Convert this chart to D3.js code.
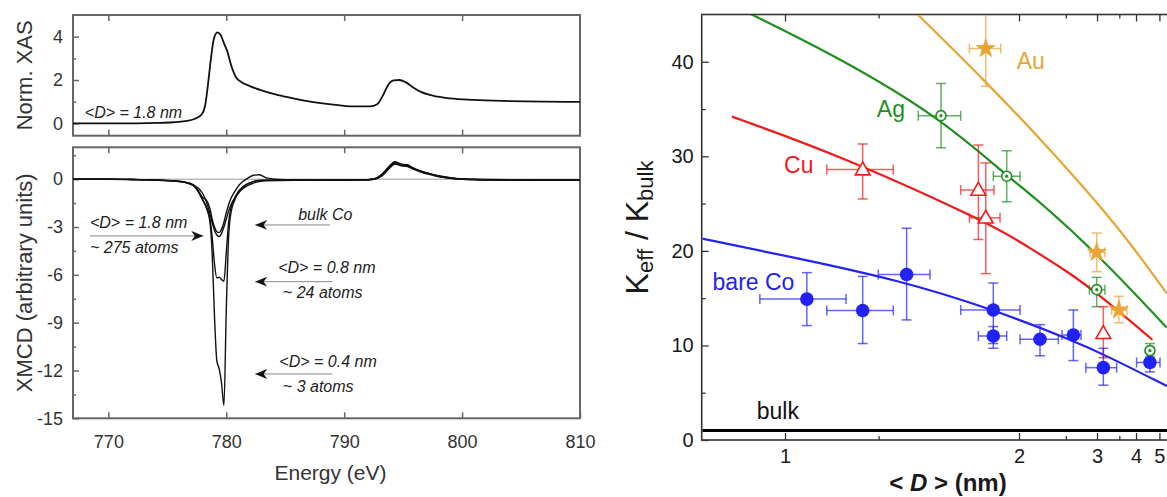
<!DOCTYPE html>
<html><head><meta charset="utf-8">
<script src="https://cdn.jsdelivr.net/npm/d3@7"></script>
<style>body{margin:0;background:#fff} svg{display:block}</style>
</head><body>
<svg id="c" width="1167" height="497"></svg>
<script>
// ---------- Left: XAS / XMCD spectra ----------
const xasEnergy = [767,772,774,775.5,776.5,777.3,777.9,778.2,778.45,778.7,778.95,779.25,779.5,779.8,780.1,780.4,780.8,781.3,782,783,784,785,786.5,788,789.5,791,792.2,792.8,793.3,793.7,794.2,794.7,795.2,795.8,796.5,797.5,799,801,804,807,810];
const xasValues = [0,0,0.02,0.05,0.1,0.2,0.4,0.8,1.8,3.0,3.9,4.2,4.1,3.7,3.3,2.7,2.15,1.9,1.72,1.52,1.36,1.23,1.06,0.93,0.84,0.78,0.78,0.88,1.3,1.75,1.98,2.0,1.9,1.68,1.45,1.28,1.15,1.08,1.03,1.0,0.99];

const xmcdEnergy = [767,770,772,774,775.5,776.5,777.2,777.6,778.0,778.3,778.6,778.8,779.0,779.2,779.4,779.6,779.8,780.0,780.2,780.4,780.7,781.0,781.4,781.8,782.3,782.8,783.4,784.5,786,788,790,791.5,792.5,793.2,793.8,794.3,794.8,795.3,795.8,796.5,797.5,798.5,799.5,801,804,807,810];
const xmcdBulk = [0,0,-0.02,-0.06,-0.12,-0.2,-0.35,-0.55,-0.9,-1.4,-2.1,-2.7,-3.2,-3.5,-3.6,-3.4,-3.0,-2.5,-2.0,-1.6,-1.2,-0.9,-0.6,-0.4,-0.25,-0.15,-0.1,-0.08,-0.07,-0.06,-0.05,-0.04,0.0,0.3,0.75,1.0,0.9,0.85,0.7,0.5,0.3,0.15,0.05,0.0,-0.03,-0.03,-0.03];
const xmcd18 = [0,0,-0.02,-0.05,-0.1,-0.18,-0.35,-0.7,-1.15,-1.3,-1.8,-2.5,-3.0,-3.3,-3.35,-3.15,-2.7,-2.1,-1.6,-1.2,-0.8,-0.45,-0.15,0.05,0.25,0.28,0.08,-0.02,-0.04,-0.05,-0.05,-0.04,0.0,0.25,0.7,1.05,0.85,0.92,0.72,0.5,0.28,0.12,0.03,-0.02,-0.05,-0.06,-0.06];
const xmcd08 = [0,0,-0.02,-0.05,-0.1,-0.2,-0.4,-0.75,-1.3,-1.7,-2.4,-3.6,-5.3,-6.2,-6.15,-6.3,-6.4,-4.6,-2.7,-1.8,-1.2,-0.8,-0.5,-0.3,-0.15,-0.08,-0.06,-0.06,-0.06,-0.06,-0.05,-0.04,0.0,0.2,0.65,0.95,0.85,0.8,0.65,0.45,0.25,0.1,0.02,-0.03,-0.06,-0.07,-0.07];
const xmcd04 = [0,0,-0.02,-0.05,-0.1,-0.2,-0.4,-0.75,-1.3,-1.8,-2.6,-4.6,-8.6,-11.4,-11.9,-12.8,-14.2,-8.2,-3.6,-2.1,-1.35,-0.85,-0.5,-0.3,-0.15,-0.08,-0.06,-0.06,-0.06,-0.06,-0.05,-0.04,0.02,0.3,0.8,1.1,0.95,0.9,0.7,0.5,0.28,0.12,0.03,-0.02,-0.05,-0.06,-0.06];

const energyTicks = [770,780,790,800,810];
const xasTicks = [0,2,4];
const xasMinor = [1,3];
const xmcdTicks = [0,-3,-6,-9,-12,-15];
const xmcdMinor = [1.5,-1.5,-4.5,-7.5,-10.5,-13.5];

// annotations: [text, energy, value]
const xasNote = ["<D> = 1.8 nm", 768.0, 0.25];
const xmcdNotes = [
  ["<D> = 1.8 nm", 768.44, -3.06], ["~ 275 atoms", 768.44, -4.63],
  ["bulk Co", 786.1, -2.56],
  ["<D> = 0.8 nm", 784.4, -5.89], ["~ 24 atoms", 784.8, -7.45],
  ["<D> = 0.4 nm", 784.5, -11.76], ["~ 3 atoms", 784.8, -13.33]
];
// arrows: [tailE, tipE, value]
const xmcdArrows = [[768.44, 778.05, -3.56],[788.8, 782.45, -2.87],[789.0, 782.45, -6.43],[789.0, 782.45, -12.22]];

// ---------- Right: anisotropy vs size ----------
const sizeTicks = [1,2,3,4,5];
const sizeMinor = [1.25,2.5,3.5];
const kTicks = [0,10,20,30,40];
const kMinor = [5,15,25,35];
const bulkLevel = 1;

// [D, K, Dlo, Dhi, Klo, Khi]
const coPoints = [[1.049,14.9,0.949,1.150,12.1,17.7],[1.199,13.7,1.098,1.301,10.2,17.3],[1.351,17.5,1.249,1.449,12.7,22.4],[1.802,13.75,1.601,2.009,10.2,16.6],[1.802,11.0,1.704,1.900,9.7,12.0],[2.197,10.65,2.009,2.404,8.9,12.2],[2.605,11.1,2.45,2.72,8.4,13.75],[3.127,7.65,2.80,3.433,5.8,9.7],[4.54,8.2,4.02,5.03,7.2,9.2]];
const cuPoints = [[1.199,28.6,1.098,1.301,25.5,31.3],[1.704,26.45,1.601,1.807,21.2,31.2],[1.751,23.5,1.65,1.85,17.6,29.3],[3.127,11.3,3.127,3.127,8.7,14.1]];
const agPoints = [[1.5,34.3,1.398,1.601,30.9,37.7],[1.90,27.9,1.802,2.009,25.2,30.6],[2.994,15.9,2.86,3.16,14.1,17.2],[4.54,9.45,4.4,4.7,8.8,10.2]];
const auPoints = [[1.751,41.4,1.650,1.855,37.4,45.6],[2.994,19.85,2.87,3.16,17.8,21.9],[3.49,13.75,3.31,3.71,12.4,15.2]];

const coFit = [[0.849,21.3],[1.0,19.5],[1.326,16.9],[1.802,13.8],[2.604,10.5],[3.2,8.9],[5.44,5.7]];
const cuFit = [[0.898,34.2],[1.133,30.1],[1.80,22.75],[2.068,20.5],[2.51,17.9],[3.06,15.3],[4.65,10.6]];
const agFit = [[0.93,45.1],[1.133,40.4],[1.495,34.1],[1.90,27.95],[2.197,25.2],[3.06,19.4],[5.42,11.9]];
const auFit = [[1.392,45.1],[1.757,37.8],[2.197,31.9],[2.994,25.2],[3.91,20.4],[5.42,15.5]];

// [text, D, K, color]
const seriesLabels = [["Au",1.98,39.2,"#e8a535"],["Ag",1.244,34.2,"#1f8f1f"],["Cu",0.998,28.25,"#f01c1c"],["bare Co",0.866,15.9,"#2222f5"],["bulk",0.943,2.2,"#111"]];

const FONT = "'Liberation Sans', Arial, Helvetica, sans-serif";
const svg = d3.select("#c");
svg.append("rect").attr("width",1167).attr("height",497).attr("fill","#fff");

svg.append("defs").append("marker").attr("id","ah").attr("viewBox","0 0 12 10")
  .attr("refX",12).attr("refY",5).attr("markerWidth",12).attr("markerHeight",10)
  .attr("markerUnits","userSpaceOnUse").attr("orient","auto")
  .append("path").attr("d","M0,0 L12,5 L0,10 L3.5,5 Z").attr("fill","#111");

// ===== LEFT =====
const xE = d3.scaleLinear().domain([767,810]).range([73,580]);
const yXas = d3.scaleLinear().domain([-0.57,5]).range([135.7,15]);
const yMcd = d3.scaleLinear().domain([-15,2]).range([418.3,147.3]);
const LC = "#666", TC = "#333";
const plain = d => String(d);

function styleAxis(g, fs){
  g.select(".domain").remove();
  g.selectAll(".tick line").attr("stroke",LC).attr("stroke-width",1.5);
  g.selectAll("text").attr("font-family",FONT).attr("font-size",fs).attr("fill",TC);
}

function leftPanel(y, yT, yMin, top){
  const g = svg.append("g");
  g.append("g").attr("transform",`translate(0,${y.range()[1]})`)
    .call(d3.axisTop(xE).tickValues([770,780,790,800]).tickSize(-6).tickFormat("")).call(a=>styleAxis(a,18));
  g.append("g").attr("transform",`translate(0,${y.range()[0]})`)
    .call(d3.axisBottom(xE).tickValues(top?[770,780,790,800]:energyTicks).tickSize(-6).tickPadding(17).tickFormat(top?"":plain))
    .call(a=>styleAxis(a,18));
  g.append("g").attr("transform",`translate(${xE.range()[0]},0)`)
    .call(d3.axisLeft(y).tickValues(yT).tickSize(-6).tickPadding(10).tickFormat(plain)).call(a=>styleAxis(a,18));
  g.append("g").attr("transform",`translate(${xE.range()[0]},0)`)
    .call(d3.axisLeft(y).tickValues(yMin).tickSize(-3).tickFormat("")).call(a=>styleAxis(a,18));
  g.append("rect").attr("x",xE.range()[0]).attr("y",y.range()[1])
    .attr("width",xE.range()[1]-xE.range()[0]).attr("height",y.range()[0]-y.range()[1])
    .attr("fill","none").attr("stroke",LC).attr("stroke-width",2);
  return g;
}

const gTop = leftPanel(yXas, xasTicks, xasMinor, true);
const lineXas = d3.line().x((d,i)=>xE(xasEnergy[i])).y(d=>yXas(d)).curve(d3.curveMonotoneX);
gTop.append("path").attr("d",lineXas(xasValues)).attr("fill","none").attr("stroke","#111").attr("stroke-width",1.8);
gTop.append("text").attr("x",xE(xasNote[1])).attr("y",yXas(xasNote[2])).text(xasNote[0])
  .attr("font-family",FONT).attr("font-style","italic").attr("font-size",16).attr("fill","#222");

const gBot = leftPanel(yMcd, xmcdTicks, xmcdMinor, false);
gBot.append("line").attr("x1",xE.range()[0]).attr("x2",xE.range()[1]).attr("y1",yMcd(0)).attr("y2",yMcd(0))
  .attr("stroke","#999").attr("stroke-width",1);
const lineMcd = d3.line().x((d,i)=>xE(xmcdEnergy[i])).y(d=>yMcd(d)).curve(d3.curveMonotoneX);
[xmcdBulk, xmcd18, xmcd08, xmcd04].forEach(s=>{
  gBot.append("path").attr("d",lineMcd(s)).attr("fill","none").attr("stroke","#111").attr("stroke-width",1.4);
});
xmcdNotes.forEach(n=>{
  gBot.append("text").attr("x",xE(n[1])).attr("y",yMcd(n[2])).text(n[0])
    .attr("font-family",FONT).attr("font-style","italic").attr("font-size",16).attr("fill","#222");
});
xmcdArrows.forEach(a=>{
  gBot.append("line").attr("x1",xE(a[0])).attr("x2",xE(a[1])).attr("y1",yMcd(a[2])).attr("y2",yMcd(a[2]))
    .attr("stroke","#888").attr("stroke-width",1).attr("marker-end","url(#ah)");
});
svg.append("text").attr("transform",`translate(32,${(yXas.range()[0]+yXas.range()[1])/2}) rotate(-90)`)
  .attr("text-anchor","middle").attr("font-family",FONT).attr("font-size",22).attr("fill",TC).text("Norm. XAS");
svg.append("text").attr("transform",`translate(32,${(yMcd.range()[0]+yMcd.range()[1])/2}) rotate(-90)`)
  .attr("text-anchor","middle").attr("font-family",FONT).attr("font-size",22).attr("fill",TC).text("XMCD (arbitrary units)");
svg.append("text").attr("x",(xE.range()[0]+xE.range()[1])/2+4).attr("y",480)
  .attr("text-anchor","middle").attr("font-family",FONT).attr("font-size",21).attr("fill",TC).text("Energy (eV)");

// ===== RIGHT =====
const xInv = d3.scaleLinear().domain([1.178,0.1774]).range([701.7,1170]); // linear in 1/D
const xR = d => xInv(1/d);
const yR = d3.scaleLinear().domain([0,45]).range([440,14.5]);
const RC = "#333";
function styleR(g, fs){
  g.select(".domain").remove();
  g.selectAll(".tick line").attr("stroke",RC).attr("stroke-width",1.3);
  g.selectAll("text").attr("font-family",FONT).attr("font-size",fs).attr("fill","#1a1a1a");
}
const gR = svg.append("g");
const inv = a => a.map(d=>1/d);
gR.append("g").attr("transform","translate(0,440)")
  .call(d3.axisBottom(xInv).tickValues(inv(sizeTicks)).tickSize(-7).tickPadding(9).tickFormat(d=>Math.round(1/d))).call(a=>styleR(a,20));
gR.append("g").attr("transform","translate(0,440)")
  .call(d3.axisBottom(xInv).tickValues(inv(sizeMinor)).tickSize(-4).tickFormat("")).call(a=>styleR(a,20));
gR.append("g").attr("transform","translate(0,14.5)")
  .call(d3.axisTop(xInv).tickValues(inv(sizeTicks)).tickSize(-7).tickFormat("")).call(a=>styleR(a,20));
gR.append("g").attr("transform","translate(0,14.5)")
  .call(d3.axisTop(xInv).tickValues(inv(sizeMinor)).tickSize(-4).tickFormat("")).call(a=>styleR(a,20));
gR.append("g").attr("transform","translate(701.7,0)")
  .call(d3.axisLeft(yR).tickValues(kTicks).tickSize(-7).tickPadding(8).tickFormat(plain)).call(a=>styleR(a,20));
gR.append("g").attr("transform","translate(701.7,0)")
  .call(d3.axisLeft(yR).tickValues(kMinor).tickSize(-4).tickFormat("")).call(a=>styleR(a,20));
gR.append("rect").attr("x",701.7).attr("y",14.5).attr("width",1170-701.7).attr("height",440-14.5)
  .attr("fill","none").attr("stroke",RC).attr("stroke-width",1.6);

svg.append("clipPath").attr("id","clipR").append("rect").attr("x",702.5).attr("y",15).attr("width",470).attr("height",424);
const plot = gR.append("g").attr("clip-path","url(#clipR)");

plot.append("line").attr("x1",701.7).attr("x2",1170).attr("y1",yR(bulkLevel)).attr("y2",yR(bulkLevel))
  .attr("stroke","#000").attr("stroke-width",3);

const fitLine = d3.line().x(d=>xR(d[0])).y(d=>yR(d[1])).curve(d3.curveBasis);
const COL = {co:"#2222f5", cu:"#f01c1c", ag:"#1f8f1f", au:"#e8a535"};
[[auFit,COL.au],[agFit,COL.ag],[cuFit,COL.cu],[coFit,COL.co]].forEach(([f,c])=>{
  plot.append("path").attr("d",fitLine(f)).attr("fill","none").attr("stroke",c).attr("stroke-width",2.2);
});

function errBars(pts, color){
  const g = plot.append("g").attr("stroke",color).attr("stroke-width",1.5).attr("stroke-opacity",0.7).attr("fill","none");
  pts.forEach(p=>{
    const x = xR(p[0]), y = yR(p[1]);
    g.append("line").attr("x1",x).attr("x2",x).attr("y1",yR(p[4])).attr("y2",yR(p[5]));
    [p[4],p[5]].forEach(k=>g.append("line").attr("x1",x-5).attr("x2",x+5).attr("y1",yR(k)).attr("y2",yR(k)));
    if (p[2] !== p[3]) {
      g.append("line").attr("x1",xR(p[2])).attr("x2",xR(p[3])).attr("y1",y).attr("y2",y);
      [p[2],p[3]].forEach(d=>g.append("line").attr("x1",xR(d)).attr("x2",xR(d)).attr("y1",y-5).attr("y2",y+5));
    }
  });
}
errBars(auPoints, COL.au); errBars(agPoints, COL.ag); errBars(cuPoints, COL.cu); errBars(coPoints, COL.co);

// markers
plot.selectAll(".au").data(auPoints).join("path")
  .attr("transform",d=>`translate(${xR(d[0])},${yR(d[1])})`)
  .attr("d",d3.symbol(d3.symbolStar,110)).attr("fill",COL.au).attr("stroke",COL.au).attr("stroke-width",0.8);
plot.selectAll(".ag").data(agPoints).join("circle")
  .attr("cx",d=>xR(d[0])).attr("cy",d=>yR(d[1])).attr("r",5).attr("fill","#fff").attr("stroke",COL.ag).attr("stroke-width",1.6);
plot.selectAll(".agd").data(agPoints).join("circle")
  .attr("cx",d=>xR(d[0])).attr("cy",d=>yR(d[1])).attr("r",1.6).attr("fill",COL.ag);
plot.selectAll(".cu").data(cuPoints).join("path")
  .attr("transform",d=>`translate(${xR(d[0])},${yR(d[1])+1})`)
  .attr("d",d3.symbol(d3.symbolTriangle,95)).attr("fill","#fff").attr("stroke",COL.cu).attr("stroke-width",1.6);
plot.selectAll(".co").data(coPoints).join("circle")
  .attr("cx",d=>xR(d[0])).attr("cy",d=>yR(d[1])).attr("r",6.8).attr("fill",COL.co);

seriesLabels.forEach(l=>{
  gR.append("text").attr("x",xR(l[1])).attr("y",yR(l[2])).text(l[0])
    .attr("font-family",FONT).attr("font-size",23).attr("fill",l[3]);
});

// axis titles
const yt = svg.append("text").attr("transform","translate(648,227.5) rotate(-90)")
  .attr("text-anchor","middle").attr("font-family",FONT).attr("font-size",32).attr("fill","#1a1a1a");
yt.append("tspan").text("K");
yt.append("tspan").attr("font-size",22).attr("dy",5).text("eff");
yt.append("tspan").attr("dy",-5).text(" / K");
yt.append("tspan").attr("font-size",22).attr("dy",5).text("bulk");

const xt = svg.append("text").attr("x",948).attr("y",491).attr("text-anchor","middle")
  .attr("font-family",FONT).attr("font-size",24).attr("font-weight","bold").attr("fill","#1a1a1a");
xt.append("tspan").text("< ");
xt.append("tspan").attr("font-style","italic").text("D");
xt.append("tspan").text(" > (nm)");
</script>
</body></html>
